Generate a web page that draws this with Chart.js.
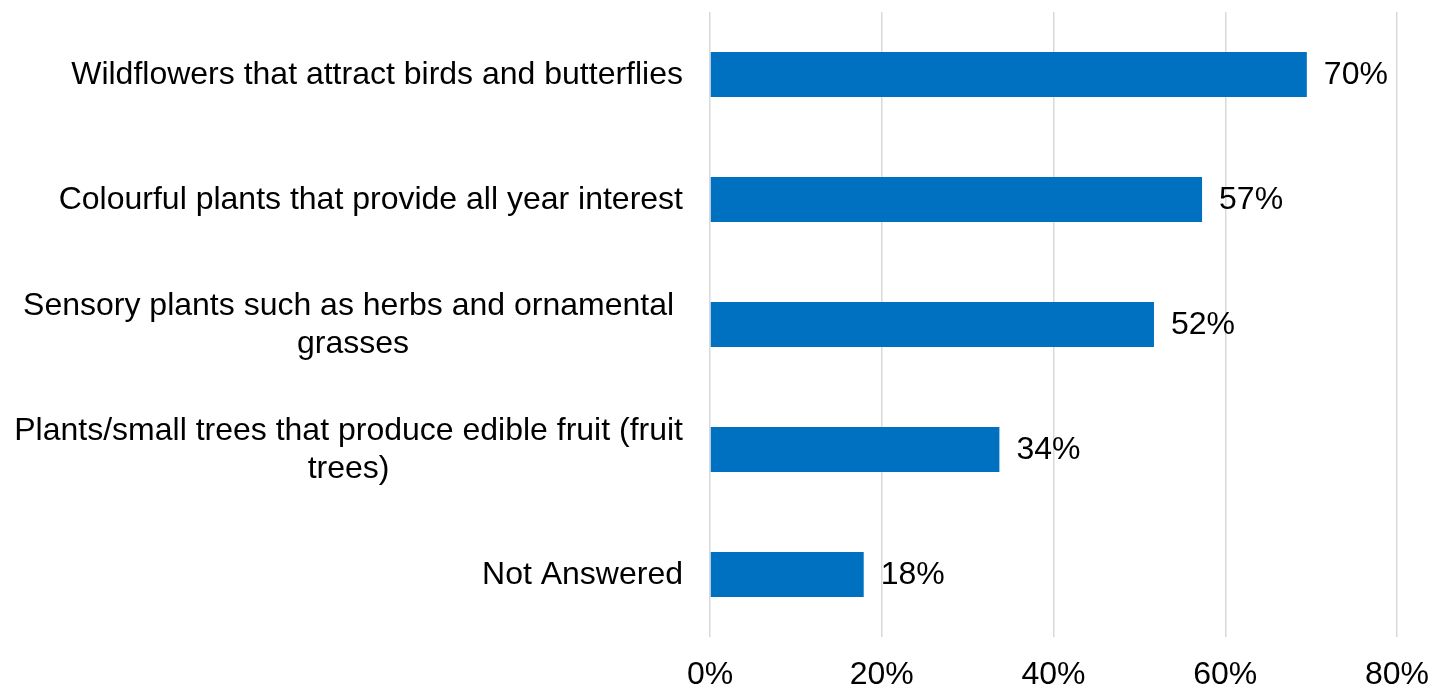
<!DOCTYPE html>
<html>
<head>
<meta charset="utf-8">
<script src="https://cdn.jsdelivr.net/npm/chart.js@4"></script>
<style>
	html, body { margin: 0; padding: 0; background: #ffffff; }
	#wrap { width: 1432px; height: 689px; }
</style>
</head>
<body>
<div id="wrap"><canvas id="chart"></canvas></div>
<script>
(function(){
	"use strict";

	// Categories (one array per line of label)
	var categories = [
		['Wildflowers that attract birds and butterflies'],
		['Colourful plants that provide all year interest'],
		['Sensory plants such as herbs and ornamental ', 'grasses'],
		['Plants/small trees that produce edible fruit (fruit', 'trees)'],
		['Not Answered']
	];

	// Percent of respondents
	var percents = [69.5, 57.3, 51.7, 33.7, 17.9];

	// Labels printed next to the bars
	var valueLabels = ['70%', '57%', '52%', '34%', '18%'];

	// x axis ticks
	var tickValues = [0, 20, 40, 60, 80];

	var FONT = '"Liberation Sans", Arial, sans-serif';
	var SIZE = 32;

	// value labels at bar end
	const barLabels = {
		id: 'bar_value_labels',
		afterDatasetsDraw: (chart) => {
			const ctx = chart.ctx;
			const meta = chart.getDatasetMeta(0);
			ctx.save();
			ctx.font = SIZE + 'px ' + FONT;
			ctx.fillStyle = '#000000';
			ctx.textAlign = 'left';
			ctx.textBaseline = 'middle';
			meta.data.forEach(function(bar, i){
				ctx.fillText(valueLabels[i], bar.x + 17, bar.y + 1);
			});
			ctx.restore();
		}
	};

	// category labels: block right aligned, lines centred in the block
	const catLabels = {
		id: 'category_labels',
		afterDraw: (chart) => {
			const ctx = chart.ctx;
			const yScale = chart.scales.y;
			const right = chart.chartArea.left - 27;
			const lh = 38;
			ctx.save();
			ctx.font = SIZE + 'px ' + FONT;
			ctx.fillStyle = '#000000';
			ctx.textAlign = 'center';
			ctx.textBaseline = 'middle';
			categories.forEach(function(lines, i){
				var w = 0;
				lines.forEach(function(l){ w = Math.max(w, ctx.measureText(l).width); });
				var cx = right - w / 2;
				var cy = yScale.getPixelForValue(i);
				var y0 = cy - (lines.length - 1) * lh / 2;
				lines.forEach(function(l, j){
					ctx.fillText(l, cx, y0 + j * lh + 1);
				});
			});
			ctx.restore();
		}
	};

	const data = {
		labels: categories,
		datasets: [{
			label: 'Percent',
			data: percents,
			backgroundColor: '#0070C0',
			borderWidth: 0,
			categoryPercentage: 0.72,
			barPercentage: 0.5
		}]
	};

	const config = {
		type: 'bar',
		data: data,
		options: {
			indexAxis: 'y',
			responsive: true,
			maintainAspectRatio: false,
			animation: false,
			layout: {
				padding: { left: 710, right: 35, top: 12, bottom: 0 }
			},
			plugins: {
				legend: { display: false },
				tooltip: { enabled: false }
			},
			scales: {
				x: {
					min: 0,
					max: 80,
					afterBuildTicks: function(scale){
						scale.ticks = tickValues.map(function(v){ return { value: v }; });
					},
					afterFit: function(scale){
						scale.height = 52;
						scale.paddingLeft = 0;
						scale.paddingRight = 0;
					},
					grid: {
						color: '#d9d9d9',
						lineWidth: 1.5,
						drawTicks: false
					},
					border: { display: false },
					ticks: {
						padding: 22,
						maxRotation: 0,
						color: '#000000',
						font: { family: FONT, size: SIZE, lineHeight: 1 },
						callback: function(v){ return v + '%'; }
					}
				},
				y: {
					display: false
				}
			}
		},
		plugins: [barLabels, catLabels]
	};

	var ctx = document.getElementById('chart').getContext('2d');
	new Chart(ctx, config);
})();
</script>
</body>
</html>
